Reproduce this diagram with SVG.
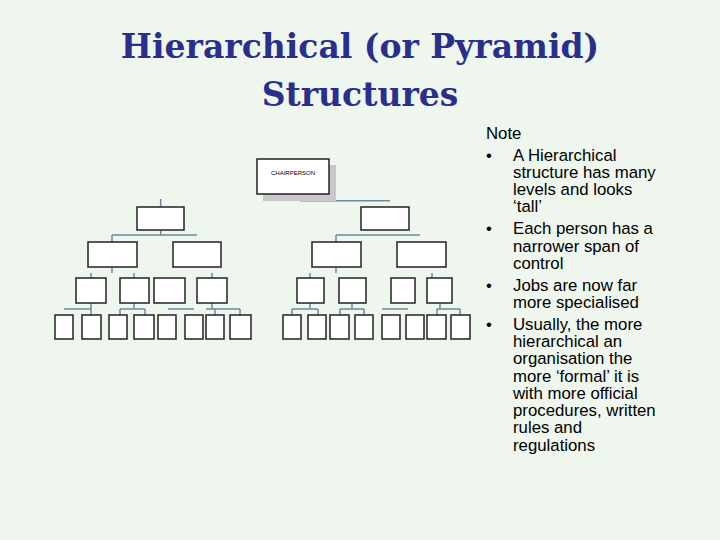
<svg xmlns="http://www.w3.org/2000/svg" width="720" height="540" viewBox="0 0 720 540">
<style>
.t{font-family:"DejaVu Serif","Liberation Serif",serif;font-weight:bold;font-size:33px;fill:#2b2f8c;text-anchor:middle}
.b{font-family:"Liberation Sans",Arial,sans-serif;font-size:16.8px;fill:#000}
.n{fill:#fff;stroke:#222;stroke-width:1.5}
.c{stroke:#6a8aa6;stroke-width:1.5;fill:none}
</style>
<rect width="720" height="540" fill="#eef6ee"/>
<text class="t" x="360" y="58">Hierarchical (or Pyramid)</text>
<text class="t" x="360" y="106">Structures</text>
<g id="notes" class="b">
<text x="486" y="139">Note</text>
<text x="486" y="161">•</text><text x="513" y="161">A Hierarchical</text>
<text x="513" y="178">structure has many</text>
<text x="513" y="195">levels and looks</text>
<text x="513" y="212">‘tall’</text>
<text x="486" y="234">•</text><text x="513" y="234">Each person has a</text>
<text x="513" y="252">narrower span of</text>
<text x="513" y="269">control</text>
<text x="486" y="291">•</text><text x="513" y="291">Jobs are now far</text>
<text x="513" y="308">more specialised</text>
<text x="486" y="330">•</text><text x="513" y="330">Usually, the more</text>
<text x="513" y="347">hierarchical an</text>
<text x="513" y="364">organisation the</text>
<text x="513" y="382">more ‘formal’ it is</text>
<text x="513" y="399">with more official</text>
<text x="513" y="416">procedures, written</text>
<text x="513" y="433">rules and</text>
<text x="513" y="451">regulations</text>
</g>
<g id="connectors" class="c">
<path d="M300 200.7H390M160.7 199V207M160.7 230V235M112 235H197M112 235V242M336 235H420M336 235V242"/>
<path d="M112 267V273M91 273V278M134 273V278M212 273V278M336 267V273M310 273V278M432 273V278"/>
<path d="M64 309H91V303M91 309V315M120 309H145M134 303V309M120 309V315M145 309V315M168 309H194M206 309H240M212 303V309M215 309V315M240 309V315M292 309H318M310 303V309M292 309V315M318 309V315M340 309H364M352 303V309M340 309V315M364 309V315M382 309H408M437 309H460M440 303V309M437 309V315M460 309V315"/>
</g>
<g id="chair"><rect x="263" y="165" width="73" height="36" fill="#c8c8c8"/><rect class="n" x="257" y="159" width="72" height="35"/><text x="293" y="175" font-family="Liberation Sans,sans-serif" font-size="6" text-anchor="middle">CHAIRPERSON</text></g>
<g id="l2"><rect class="n" x="137" y="207" width="47" height="23" stroke-width="2.5"/><rect class="n" x="361" y="207" width="48" height="23" stroke-width="2.5"/></g>
<g id="l3"><rect class="n" x="88" y="242" width="49" height="25"/><rect class="n" x="173" y="242" width="48" height="25"/><rect class="n" x="312" y="242" width="49" height="25"/><rect class="n" x="397" y="242" width="49" height="25"/></g>
<g id="l4"><rect class="n" x="76" y="278" width="30" height="25"/><rect class="n" x="120" y="278" width="29" height="25"/><rect class="n" x="154" y="278" width="31" height="25"/><rect class="n" x="197" y="278" width="30" height="25"/><rect class="n" x="297" y="278" width="27" height="25"/><rect class="n" x="339" y="278" width="27" height="25"/><rect class="n" x="391" y="278" width="24" height="25"/><rect class="n" x="427" y="278" width="25" height="25"/></g>
<g id="l5"><rect class="n" x="55" y="315" width="18" height="24"/><rect class="n" x="82" y="315" width="19" height="24"/><rect class="n" x="109" y="315" width="18" height="24"/><rect class="n" x="134" y="315" width="20" height="24"/><rect class="n" x="158" y="315" width="18" height="24"/><rect class="n" x="185" y="315" width="18" height="24"/><rect class="n" x="206" y="315" width="18" height="24"/><rect class="n" x="230" y="315" width="21" height="24"/><rect class="n" x="283" y="315" width="18" height="24"/><rect class="n" x="308" y="315" width="18" height="24"/><rect class="n" x="330" y="315" width="19" height="24"/><rect class="n" x="355" y="315" width="18" height="24"/><rect class="n" x="382" y="315" width="18" height="24"/><rect class="n" x="406" y="315" width="18" height="24"/><rect class="n" x="427" y="315" width="19" height="24"/><rect class="n" x="451" y="315" width="19" height="24"/></g>
</svg>
